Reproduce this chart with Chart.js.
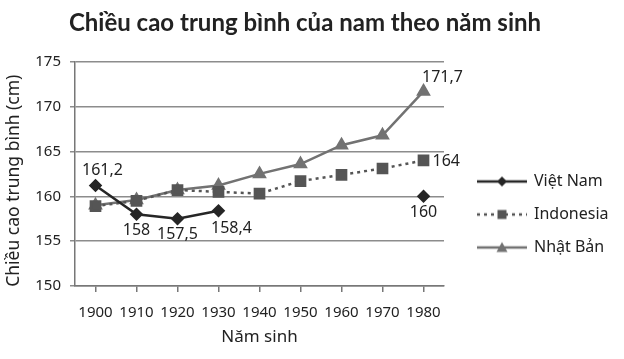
<!DOCTYPE html>
<html>
<head>
<meta charset="utf-8">
<script src="https://cdn.jsdelivr.net/npm/chart.js@4/dist/chart.umd.min.js"></script>
<style>
  html, body { margin: 0; background: #fff; }
  #wrap { width: 624px; height: 359px; }
</style>
</head>
<body>
<div id="wrap"><canvas id="mychart"></canvas></div>
<script>
let years = ['1900', '1910', '1920', '1930', '1940', '1950', '1960', '1970', '1980'];
let vietnam = [161.2, 158, 157.5, 158.4, null, null, null, null, 160];
let indonesia = [158.9, 159.5, 160.7, 160.5, 160.3, 161.7, 162.4, 163.1, 164];
let japan = [159.0, 159.6, 160.7, 161.2, 162.5, 163.6, 165.7, 166.8, 171.7];
let seriesNames = ['Việt Nam', 'Indonesia', 'Nhật Bản'];
let yMin = 150, yMax = 175, yStep = 5;

// points that carry a value label: [dataset, index, where]
let labelSpots = [[0, 0, 'above'], [0, 1, 'below'], [0, 2, 'below'], [0, 3, 'belowRight'],
                  [0, 8, 'below'], [1, 8, 'right'], [2, 8, 'aboveRight']];
let spotOffsets = {
  above: {dx: 7, dy: -15, align: 'center'},
  below: {dx: 0, dy: 16, align: 'center'},
  belowRight: {dx: 13, dy: 18, align: 'center'},
  right: {dx: 9, dy: 1, align: 'left'},
  aboveRight: {dx: 19, dy: -14, align: 'center'}
};

let textColor = '#222';
let font = '"Noto Sans", "DejaVu Sans", sans-serif';

// small picture of line + marker for the legend
function legendSample(color, dash, marker) {
  let c = document.createElement('canvas');
  c.width = 50; c.height = 14;
  let g = c.getContext('2d');
  g.strokeStyle = color;
  g.lineWidth = 2.5;
  g.setLineDash(dash);
  g.beginPath(); g.moveTo(0, 7); g.lineTo(50, 7); g.stroke();
  g.setLineDash([]);
  g.fillStyle = color;
  g.beginPath();
  if (marker == 'diamond') {
    g.moveTo(25, 2); g.lineTo(30, 7); g.lineTo(25, 12); g.lineTo(20, 7);
  } else if (marker == 'square') {
    g.rect(20.5, 2.5, 9, 9);
  } else {
    g.moveTo(25, 1.5); g.lineTo(30.5, 11.5); g.lineTo(19.5, 11.5);
  }
  g.closePath(); g.fill();
  return c;
}
let samples = [
  legendSample('#262626', [], 'diamond'),
  legendSample('#555', [3, 4], 'square'),
  legendSample('#727272', [], 'triangle')
];

const valueLabels = {
  id: 'valueLabels',
  afterDatasetsDraw(chart) {
    let ctx = chart.ctx;
    ctx.save();
    ctx.font = '16px ' + font;
    ctx.fillStyle = textColor;
    ctx.textBaseline = 'middle';
    labelSpots.forEach(([ds, i, where]) => {
      let pt = chart.getDatasetMeta(ds).data[i];
      let v = chart.data.datasets[ds].data[i];
      let o = spotOffsets[where];
      ctx.textAlign = o.align;
      ctx.fillText(String(v).replace('.', ','), pt.x + o.dx, pt.y + o.dy);
    });
    ctx.restore();
  }
};

// nudge the legend block and the title to where the original has them
const layoutNudge = {
  id: 'layoutNudge',
  afterLayout(chart) {
    let lg = chart.legend;
    lg.top += 35; lg.bottom += 35;
    lg.left += 17; lg.right += 40;
    lg.width = lg.right - lg.left;
    let tb = chart.titleBlock;
    tb.left += 8; tb.right += 10;
  }
};

let ctx = document.getElementById('mychart').getContext('2d');
let myChart = new Chart(ctx, {
  type: 'line',
  data: {
    labels: years,
    datasets: [
      {
        label: seriesNames[0], data: vietnam,
        borderColor: '#262626', backgroundColor: '#262626', borderWidth: 2.5,
        pointStyle: 'rectRot', pointRadius: 5, pointHoverRadius: 5, spanGaps: false
      },
      {
        label: seriesNames[1], data: indonesia,
        borderColor: '#555', backgroundColor: '#555', borderWidth: 2.5, borderDash: [3, 4],
        pointStyle: 'rect', pointRadius: 6.5, pointHoverRadius: 6.5
      },
      {
        label: seriesNames[2], data: japan,
        borderColor: '#727272', backgroundColor: '#727272', borderWidth: 2.5,
        pointStyle: 'triangle', pointRadius: 6, pointHoverRadius: 6
      }
    ]
  },
  options: {
    responsive: true,
    maintainAspectRatio: false,
    animation: false,
    layout: { padding: { left: 0, right: 32, top: 0, bottom: 0 } },
    plugins: {
      title: {
        display: true,
        text: 'Chiều cao trung bình của nam theo năm sinh',
        color: textColor,
        font: { family: 'Lato, "Noto Sans", sans-serif', size: 24, weight: 'bold' },
        padding: { top: 9, bottom: 24 }
      },
      legend: {
        position: 'right',
        labels: {
          color: textColor,
          font: { family: font, size: 16 },
          usePointStyle: true,
          pointStyleWidth: 48,
          padding: 17,
          generateLabels(chart) {
            let items = Chart.defaults.plugins.legend.labels.generateLabels(chart);
            items.forEach((it, k) => { it.pointStyle = samples[k]; });
            return items;
          }
        }
      },
      tooltip: { enabled: false }
    },
    scales: {
      x: {
        offset: true,
        afterFit(scale) { scale.height = 73; },
        grid: { display: true, drawOnChartArea: false, drawTicks: true, tickLength: 6, color: '#777', lineWidth: 1.5 },
        border: { color: '#777', width: 1.5 },
        ticks: { color: textColor, font: { family: font, size: 15 }, padding: 12, maxRotation: 0, autoSkip: false },
        title: { display: true, text: 'Năm sinh', color: textColor, font: { family: font, size: 17 }, padding: { top: 0, bottom: 12 } }
      },
      y: {
        min: yMin, max: yMax,
        afterFit(scale) { scale.width = 75; },
        grid: { color: '#8c8c8c', lineWidth: 1.5, drawTicks: true, tickLength: 5 },
        border: { color: '#777', width: 1.5 },
        ticks: { stepSize: yStep, color: textColor, font: { family: font, size: 15 }, padding: 9 },
        title: { display: true, text: 'Chiều cao trung bình (cm)   ', color: textColor, font: { family: font, size: 17.5 }, padding: { bottom: 2 } }
      }
    }
  },
  plugins: [valueLabels, layoutNudge]
});
</script>
</body>
</html>
